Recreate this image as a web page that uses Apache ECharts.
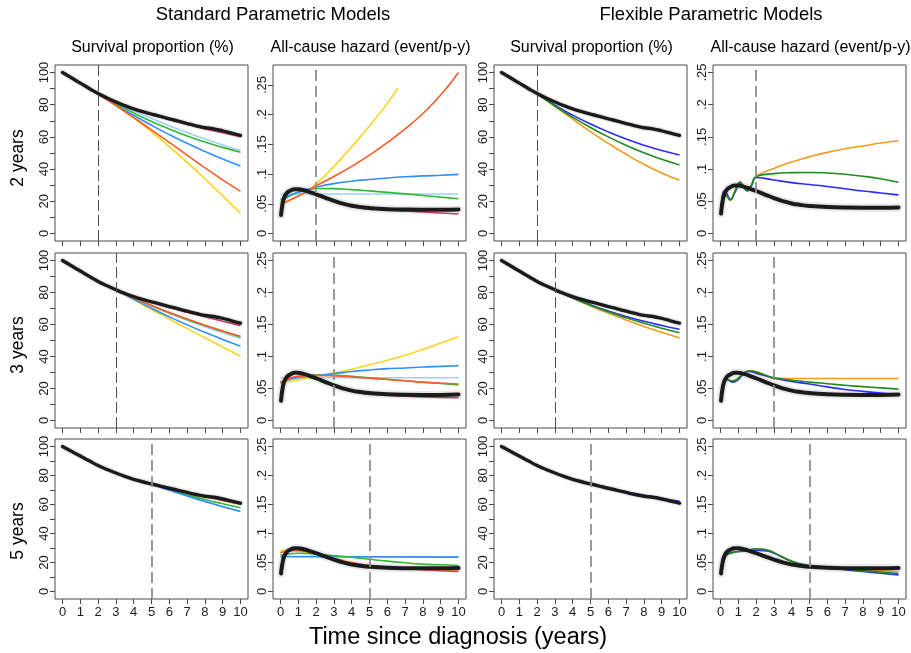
<!DOCTYPE html>
<html><head><meta charset="utf-8">
<script src="https://cdn.jsdelivr.net/npm/echarts@6/dist/echarts.min.js"></script>
<style>html,body{margin:0;padding:0;background:#fff}#c{width:911px;height:653px}</style>
</head><body><div id="c"></div>
<script>
// ================= DATA =================
const xTicks = [0,1,2,3,4,5,6,7,8,9,10];
const survTicks = [0,10,20,30,40,50,60,70,80,90,100];
const survLabels = [0,20,40,60,80,100];
const hazTicks = [0,0.05,0.1,0.15,0.2,0.25];
const rowNames = ['2 years','3 years','5 years'];
const cutoffs = [2,3,5];
const colTitles = ['Survival proportion (%)','All-cause hazard (event/p-y)','Survival proportion (%)','All-cause hazard (event/p-y)'];
const groupTitles = ['Standard Parametric Models','Flexible Parametric Models'];
const xTitle = 'Time since diagnosis (years)';

// observed (black) curves
const obsSurvTime = [0,0.5,1,1.5,2,2.5,3,3.5,4,4.5,5,5.5,6,6.5,7,7.5,8,8.5,9,9.5,10];
const obsSurv = [100,96.7,93.4,90.1,86.9,84.2,81.7,79.4,77.4,75.7,74.2,72.7,71.2,69.8,68.3,66.9,65.7,65.0,63.8,62.3,60.9];
const obsHazTime = [0.03,0.1,0.2,0.35,0.55,0.8,1.0,1.3,1.6,2.0,2.5,3.0,3.5,4.0,4.5,5.0,6.0,7.0,8.0,9.0,10.0];
const obsHaz = [0.031,0.047,0.06,0.068,0.072,0.0745,0.0745,0.0728,0.0702,0.066,0.0605,0.055,0.0503,0.0467,0.0444,0.0428,0.041,0.0402,0.040,0.040,0.0405];

// ---- standard parametric, cut-off 2 years ----
const std2HazTime = [0,0.5,1,1.5,2,3,4,5,6,7,8,9,10];
const std2HazTomato = [0.049,0.056,0.063,0.071,0.08,0.096,0.113,0.132,0.153,0.176,0.202,0.233,0.271];
const std2HazBlue = [0.057,0.064,0.069,0.074,0.078,0.084,0.088,0.091,0.0935,0.0955,0.097,0.098,0.0995];
const std2HazGreen = [0.053,0.063,0.07,0.074,0.0758,0.0755,0.0738,0.0717,0.0693,0.0667,0.064,0.0612,0.0585];
const std2HazYellowTime = [0,0.5,1,1.5,2,3,4,5,6,6.6];
const std2HazYellow = [0.048,0.055,0.063,0.072,0.0835,0.113,0.146,0.181,0.219,0.245];
const std2HazLightTime = [0,10];
const std2HazLight = [0.0666,0.0666];
const std2HazCrimson = [0.032,0.047,0.06,0.068,0.072,0.074,0.0742,0.0725,0.0698,0.0656,0.06,0.0545,0.0498,0.0462,0.0437,0.042,0.0397,0.0378,0.0362,0.0345,0.0328];
const std2SurvTime = [2,3,4,5,6,7,8,9,10];
const std2SurvYellow = [86.9,79.4,71.8,63.2,54,44.2,34,23.4,12.4];
const std2SurvTomato = [86.9,79.5,72,64.4,56.6,48.7,40.8,33.3,26.2];
const std2SurvBlue = [86.9,79.7,73.3,67.2,61.4,56,51,46.3,41.9];
const std2SurvGreen = [86.9,80.5,74.8,69.6,64.9,60.6,56.8,53.5,50.5];
const std2SurvLight = [86.9,81.3,76.2,71.4,66.9,62.7,58.7,55,51.5];
const std2SurvCrimson = [86.9,81.6,77.2,73.9,70.8,67.9,65.1,62.6,60.1];

// ---- standard parametric, cut-off 3 years ----
const std3HazTime = [0,0.5,1,1.5,2,3,4,5,6,7,8,9,10];
const std3HazYellow = [0.059,0.061,0.0635,0.066,0.069,0.0745,0.08,0.087,0.094,0.102,0.111,0.121,0.131];
const std3HazBlue = [0.06,0.064,0.067,0.069,0.0705,0.073,0.0765,0.079,0.081,0.082,0.0835,0.0845,0.0855];
const std3HazGreen = [0.058,0.065,0.069,0.0707,0.0715,0.0708,0.069,0.0668,0.0645,0.062,0.0598,0.0577,0.0557];
const std3HazTomato = [0.06,0.066,0.069,0.0702,0.0705,0.0697,0.068,0.066,0.064,0.062,0.06,0.0585,0.057];
const std3HazLightTime = [0,10];
const std3HazLight = [0.0667,0.0667];
const std3HazCrimson = [0.032,0.047,0.06,0.068,0.072,0.0742,0.0742,0.0726,0.07,0.0658,0.0603,0.0548,0.0497,0.0458,0.0432,0.0417,0.0395,0.0378,0.0368,0.036,0.0355];
const std3SurvTime = [3,4,5,6,7,8,9,10];
const std3SurvYellow = [81.7,75.6,69.4,63.4,57.4,51.7,45.9,40.2];
const std3SurvBlue = [81.7,75.8,70.1,64.8,59.8,55.1,50.7,46.4];
const std3SurvLight = [81.7,76.4,71.5,66.9,62.6,58.6,54.8,51.2];
const std3SurvGreen = [81.7,76.6,71.8,67.4,63.2,59.4,55.8,52.2];
const std3SurvTomato = [81.7,76.6,71.9,67.5,63.4,59.6,56,52.6];
const std3SurvCrimson = [81.7,77.4,73.9,70.7,67.7,64.8,62,59.3];

// ---- standard parametric, cut-off 5 years ----
const std5HazTime = [0,0.5,1,1.5,2,2.5,3,3.5,4,4.5,5,6,7,8,9,10];
const std5HazYellow = [0.0705,0.071,0.0705,0.068,0.065,0.061,0.057,0.053,0.0495,0.0467,0.0445,0.0413,0.0396,0.0386,0.038,0.0376];
const std5HazTomato = [0.067,0.0702,0.0703,0.0685,0.065,0.0612,0.057,0.0532,0.0498,0.0468,0.0446,0.0414,0.0396,0.0386,0.0379,0.0374];
const std5HazGreen = [0.0625,0.0652,0.066,0.0655,0.0645,0.0633,0.062,0.0605,0.059,0.0572,0.0555,0.0523,0.0495,0.0472,0.046,0.0448];
const std5HazFlatTime = [0,10];
const std5HazBlue = [0.0603,0.0592];
const std5HazLight = [0.0598,0.0598];
const std5HazCrimson = [0.033,0.05,0.062,0.068,0.0715,0.072,0.0715,0.0703,0.0684,0.0652,0.0605,0.0558,0.0513,0.0483,0.0462,0.0446,0.0413,0.0392,0.0374,0.0358,0.0345];
const std5SurvTime = [5,6,7,8,9,10];
const std5SurvBlue = [74.2,69.9,65.9,62.1,58.5,55.2];
const std5SurvLight = [74.2,69.9,65.9,62.1,58.6,55.3];
const std5SurvGreen = [74.2,70.3,66.7,63.4,60.5,57.8];
const std5SurvTomato = [74.2,71.1,68.3,65.6,63,60.4];
const std5SurvYellow = [74.2,71.2,68.4,65.8,63.2,60.7];
const std5SurvCrimson = [74.2,71.1,68.3,65.5,62.8,60.2];

// ---- flexible parametric, cut-off 2 years ----
const flex2HazTime = [0.03,0.2,0.35,0.55,0.8,1.1,1.3,1.5,1.75,2,3,4,5,6,7,8,9,10];
const flex2HazBlue = [0.032,0.066,0.062,0.053,0.063,0.077,0.071,0.067,0.075,0.087,0.083,0.079,0.076,0.073,0.0695,0.066,0.063,0.06];
const flex2HazGreen = [0.032,0.06,0.058,0.052,0.065,0.08,0.073,0.066,0.076,0.0886,0.093,0.0945,0.0948,0.094,0.092,0.089,0.085,0.0795];
const flex2HazOrange = [0.032,0.06,0.058,0.052,0.065,0.08,0.073,0.066,0.076,0.0886,0.101,0.111,0.119,0.126,0.1315,0.136,0.1405,0.144];
const flex2SurvTime = [2,3,4,5,6,7,8,9,10];
const flex2SurvBlue = [86.9,79.7,73.5,68,63.1,58.7,54.8,51.5,48.8];
const flex2SurvGreen = [86.9,79.2,72.2,65.8,60,54.8,50.1,46.1,42.6];
const flex2SurvOrange = [86.9,79,71,63.3,56,49.2,43,37.6,33];

// ---- flexible parametric, cut-off 3 years ----
const flex3HazTime = [0.03,0.2,0.35,0.7,1.0,1.3,1.6,2.0,2.5,3,4,5,6,7,8,9,10];
const flex3HazBlue = [0.032,0.058,0.064,0.06,0.064,0.073,0.0765,0.074,0.07,0.066,0.061,0.057,0.0525,0.0484,0.0455,0.043,0.041];
const flex3HazGreen = [0.032,0.058,0.064,0.062,0.066,0.074,0.0778,0.076,0.071,0.0667,0.063,0.06,0.0575,0.055,0.053,0.051,0.049];
const flex3HazOrange = [0.032,0.058,0.064,0.062,0.066,0.074,0.0778,0.076,0.071,0.0662,0.0657,0.0656,0.0656,0.0656,0.0656,0.0656,0.0656];
const flex3SurvTime = [3,4,5,6,7,8,9,10];
const flex3SurvBlue = [81.7,76.7,72.3,68.4,65,62,59.4,57];
const flex3SurvGreen = [81.7,76.6,72,67.9,64.2,60.8,57.7,54.9];
const flex3SurvOrange = [81.7,76.5,71.6,67.1,62.8,58.8,55.1,51.6];

// ---- flexible parametric, cut-off 5 years ----
const flex5HazTime = [0.03,0.3,0.6,1,1.5,2,2.5,3,3.5,4,4.5,5,6,7,8,9,10];
const flex5HazBlue = [0.032,0.062,0.067,0.069,0.07,0.071,0.0705,0.066,0.059,0.052,0.047,0.0443,0.0405,0.0375,0.0345,0.0315,0.0287];
const flex5HazGreen = [0.032,0.061,0.066,0.069,0.071,0.0735,0.0725,0.067,0.059,0.052,0.0475,0.0445,0.041,0.0385,0.036,0.0335,0.031];
const flex5HazOrange = [0.032,0.061,0.066,0.069,0.071,0.0735,0.0725,0.067,0.059,0.052,0.0475,0.0445,0.042,0.04,0.0378,0.0358,0.034];
const flex5SurvTime = [5,6,7,8,9,10];
const flex5SurvBlue = [74.2,71.3,68.7,66.4,64.2,62.2];
const flex5SurvGreen = [74.2,71.2,68.5,66.1,63.8,61.7];
const flex5SurvOrange = [74.2,71.1,68.4,65.8,63.5,61.3];

// ================= STYLE / LAYOUT =================
const FONT = '"Liberation Sans", Arial, Helvetica, sans-serif';
const C = {yellow:'#FFD21E', tomato:'#FF5A26', blue:'#2F8FFF', light:'#9FD0F2', green:'#33B833', crimson:'#C73A60',
           fblue:'#2B2BFF', fgreen:'#1F8A1F', forange:'#F29A1E'};
const BOX_L = [55, 273, 494, 713], BOX_W = 193;
const BOX_T = [65, 253, 439], BOX_B = [241, 428, 599];
const PAD = 7.5;
function padRange(lo, hi, px) { const d = (hi - lo) * PAD / (px - 2 * PAD); return [lo - d, hi + d]; }
const M = (color, time, values) => ({color, time, values});

const panels = [
  {row:0, col:0, kind:'surv', models:[M(C.light,std2SurvTime,std2SurvLight),M(C.crimson,std2SurvTime,std2SurvCrimson),M(C.yellow,std2SurvTime,std2SurvYellow),M(C.green,std2SurvTime,std2SurvGreen),M(C.blue,std2SurvTime,std2SurvBlue),M(C.tomato,std2SurvTime,std2SurvTomato)]},
  {row:0, col:1, kind:'haz', top:0.271, models:[M(C.light,std2HazLightTime,std2HazLight),M(C.crimson,obsHazTime,std2HazCrimson),M(C.yellow,std2HazYellowTime,std2HazYellow),M(C.green,std2HazTime,std2HazGreen),M(C.blue,std2HazTime,std2HazBlue),M(C.tomato,std2HazTime,std2HazTomato)]},
  {row:0, col:2, kind:'surv', models:[M(C.forange,flex2SurvTime,flex2SurvOrange),M(C.fblue,flex2SurvTime,flex2SurvBlue),M(C.fgreen,flex2SurvTime,flex2SurvGreen)]},
  {row:0, col:3, kind:'haz', models:[M(C.forange,flex2HazTime,flex2HazOrange),M(C.fblue,flex2HazTime,flex2HazBlue),M(C.fgreen,flex2HazTime,flex2HazGreen)]},
  {row:1, col:0, kind:'surv', models:[M(C.light,std3SurvTime,std3SurvLight),M(C.crimson,std3SurvTime,std3SurvCrimson),M(C.yellow,std3SurvTime,std3SurvYellow),M(C.green,std3SurvTime,std3SurvGreen),M(C.blue,std3SurvTime,std3SurvBlue),M(C.tomato,std3SurvTime,std3SurvTomato)]},
  {row:1, col:1, kind:'haz', models:[M(C.light,std3HazLightTime,std3HazLight),M(C.crimson,obsHazTime,std3HazCrimson),M(C.yellow,std3HazTime,std3HazYellow),M(C.green,std3HazTime,std3HazGreen),M(C.blue,std3HazTime,std3HazBlue),M(C.tomato,std3HazTime,std3HazTomato)]},
  {row:1, col:2, kind:'surv', models:[M(C.forange,flex3SurvTime,flex3SurvOrange),M(C.fblue,flex3SurvTime,flex3SurvBlue),M(C.fgreen,flex3SurvTime,flex3SurvGreen)]},
  {row:1, col:3, kind:'haz', models:[M(C.forange,flex3HazTime,flex3HazOrange),M(C.fblue,flex3HazTime,flex3HazBlue),M(C.fgreen,flex3HazTime,flex3HazGreen)]},
  {row:2, col:0, kind:'surv', models:[M(C.light,std5SurvTime,std5SurvLight),M(C.crimson,std5SurvTime,std5SurvCrimson),M(C.yellow,std5SurvTime,std5SurvYellow),M(C.green,std5SurvTime,std5SurvGreen),M(C.blue,std5SurvTime,std5SurvBlue),M(C.tomato,std5SurvTime,std5SurvTomato)]},
  {row:2, col:1, kind:'haz', models:[M(C.light,std5HazFlatTime,std5HazLight),M(C.crimson,obsHazTime,std5HazCrimson),M(C.blue,std5HazFlatTime,std5HazBlue),M(C.yellow,std5HazTime,std5HazYellow),M(C.green,std5HazTime,std5HazGreen),M(C.tomato,std5HazTime,std5HazTomato)]},
  {row:2, col:2, kind:'surv', models:[M(C.forange,flex5SurvTime,flex5SurvOrange),M(C.fgreen,flex5SurvTime,flex5SurvGreen),M(C.fblue,flex5SurvTime,flex5SurvBlue)]},
  {row:2, col:3, kind:'haz', models:[M(C.forange,flex5HazTime,flex5HazOrange),M(C.fblue,flex5HazTime,flex5HazBlue),M(C.fgreen,flex5HazTime,flex5HazGreen)]}
];

const pair = (t, v) => t.map((x, i) => [x, v[i]]);
const grids = [], xAxes = [], yAxes = [], series = [], graphics = [];
const hazFmt = v => (v === 0 ? '0' : String(v).replace(/^0\./, '.'));

panels.forEach((p, i) => {
  const left = BOX_L[p.col], top = BOX_T[p.row], h = BOX_B[p.row] - BOX_T[p.row];
  grids.push({left, top, width: BOX_W, height: h, show: true, borderColor: '#4a4a4a', borderWidth: 1,
              backgroundColor: '#fff', containLabel: false, outerBoundsMode: 'none'});
  const xr = padRange(0, 10, BOX_W);
  xAxes.push({type: 'value', gridIndex: i, min: xr[0], max: xr[1],
    axisLine: {show: false, onZero: false}, splitLine: {show: false},
    axisTick: {show: true, customValues: xTicks, length: 5, lineStyle: {color: '#4a4a4a', width: 1}},
    axisLabel: {show: p.row === 2, customValues: xTicks, margin: 7, fontSize: 13, color: '#1a1a1a', fontFamily: FONT}});
  const surv = p.kind === 'surv';
  const yr = padRange(0, surv ? 100 : (p.top || 0.25), h);
  yAxes.push({type: 'value', gridIndex: i, min: yr[0], max: yr[1],
    axisLine: {show: false, onZero: false}, splitLine: {show: false},
    axisTick: {show: true, customValues: surv ? survTicks : hazTicks, length: 5, lineStyle: {color: '#4a4a4a', width: 1}},
    axisLabel: {show: true, customValues: surv ? survLabels : hazTicks, rotate: 90, margin: 4, fontSize: 13,
      color: '#1a1a1a', fontFamily: FONT, formatter: surv ? (v => String(v)) : hazFmt}});

  const lightDash = p.kind === 'haz' || p.row === 2;
  const obsData = surv ? pair(obsSurvTime, obsSurv) : pair(obsHazTime, obsHaz);
  const base = {type: 'line', xAxisIndex: i, yAxisIndex: i, showSymbol: false, symbol: 'none', silent: true,
                animation: false, smooth: 0.5};
  // confidence band (grey halo) + cut-off marker
  series.push(Object.assign({}, base, {data: obsData,
    lineStyle: {color: 'rgba(190,190,190,0.35)', width: surv ? 6 : 8, cap: 'round'},
    markLine: {silent: true, symbol: ['none', 'none'], label: {show: false}, animation: false,
      lineStyle: {type: lightDash ? [11, 5] : [11, 4], color: lightDash ? '#8f8f8f' : '#505050', width: lightDash ? 1.8 : 1},
      data: [{xAxis: cutoffs[p.row]}]}}));
  p.models.forEach(m => series.push(Object.assign({}, base, {data: pair(m.time, m.values),
    lineStyle: {color: m.color, width: 1.6}})));
  series.push(Object.assign({}, base, {data: obsData, lineStyle: {color: '#1b1b1b', width: surv ? 3.4 : 4, cap: 'round'}}));
});

const txt = (text, x, y, size, rot) => ({type: 'text', x, y, rotation: rot || 0, silent: true,
  style: {text, font: size + 'px ' + FONT, fill: '#000', align: 'center', verticalAlign: 'middle',
          textAlign: 'center', textVerticalAlign: 'middle'}});
graphics.push(txt(groupTitles[0], 273, 15, 18.5));
graphics.push(txt(groupTitles[1], 711, 15, 18.5));
colTitles.forEach((t, c) => graphics.push(txt(t, BOX_L[c] + BOX_W / 2 + 1, 48, 16)));
const rowLabelY = [158, 345, 531];
rowNames.forEach((t, r) => graphics.push(txt(t, 18, rowLabelY[r], 17.5, Math.PI / 2)));
graphics.push(txt(xTitle, 458, 638, 23.5));

const chart = echarts.init(document.getElementById('c'), null, {renderer: 'canvas', width: 911, height: 653});
chart.setOption({animation: false, backgroundColor: '#fff', grid: grids, xAxis: xAxes, yAxis: yAxes,
                 series, graphic: graphics});
</script></body></html>
